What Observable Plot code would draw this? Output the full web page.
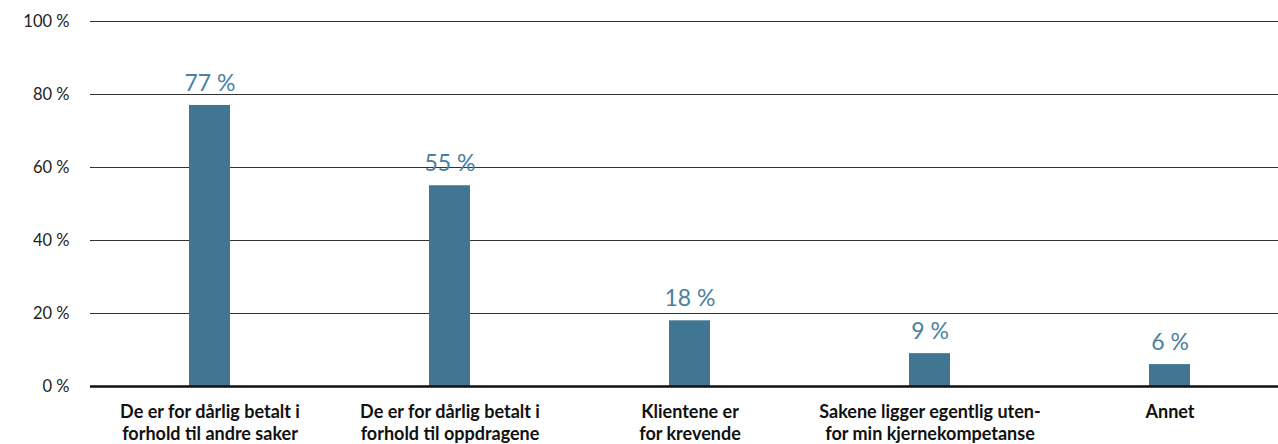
<!DOCTYPE html>
<html>
<head>
<meta charset="utf-8">
<script src="https://cdn.jsdelivr.net/npm/d3@7"></script>
<script src="https://cdn.jsdelivr.net/npm/@observablehq/plot@0.6"></script>
<style>
  html, body { margin: 0; padding: 0; background: #fff; overflow: hidden; }
  #chart svg { display: block; overflow: visible; }
</style>
</head>
<body>
<div id="chart"></div>
<script>
const categories = [
  "De er for dårlig betalt i\nforhold til andre saker",
  "De er for dårlig betalt i\nforhold til oppdragene",
  "Klientene er\nfor krevende",
  "Sakene ligger egentlig uten-\nfor min kjernekompetanse",
  "Annet"
];
const values = [77, 55, 18, 9, 6];
const yTicks = [0, 20, 40, 60, 80, 100];
const gridTicks = [20, 40, 60, 80, 100];

const data = categories.map((c, i) => ({category: c, value: values[i]}));
const font = "Lato, 'Open Sans', sans-serif";

const chart = Plot.plot({
  width: 1278,
  height: 444,
  marginLeft: 90,
  marginRight: -12,
  marginTop: 21,
  marginBottom: 58,
  style: {fontFamily: font, background: "#fff", overflow: "visible"},
  x: {domain: categories, paddingInner: 0.829, paddingOuter: 0.4145, label: null},
  y: {domain: [0, 100], label: null},
  marks: [
    Plot.gridY(gridTicks, {stroke: "#333", strokeOpacity: 1, strokeWidth: 1}),
    Plot.barY(data, {x: "category", y: "value", fill: "#417692"}),
    Plot.text(data, {x: "category", y: "value", text: d => d.value + " %", dy: -22,
      fill: "#4b80a0", fontSize: 23, fontFamily: font}),
    Plot.ruleY([0], {stroke: "#111", strokeWidth: 2.5}),
    Plot.axisY({ticks: yTicks, tickFormat: d => d + " %", tickSize: 0, tickPadding: 21,
      fontSize: 16.5, fill: "#222", fontFamily: font}),
    Plot.axisX({tickSize: 0, tickPadding: 16, fontSize: 18, fontWeight: "bold",
      lineHeight: 1.22, fill: "#111", fontFamily: font, textAnchor: "middle"})
  ]
});
document.getElementById("chart").appendChild(chart);
</script>
</body>
</html>
